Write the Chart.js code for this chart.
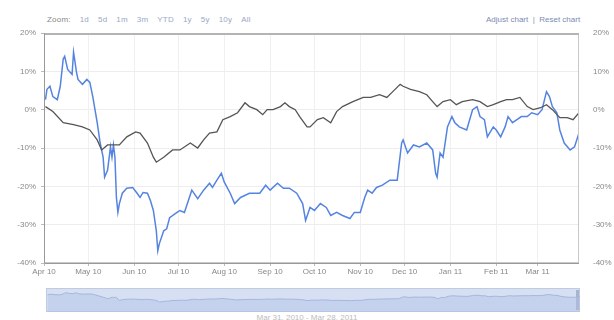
<!DOCTYPE html>
<html>
<head>
<meta charset="utf-8">
<script src="https://cdn.jsdelivr.net/npm/chart.js@4/dist/chart.umd.min.js"></script>
<style>
  html, body { margin: 0; padding: 0; background: #fff; }
  body { width: 614px; height: 320px; position: relative; overflow: hidden; font-family: Arial, "Liberation Sans", sans-serif; }
  #main { position: absolute; left: 0; top: 0; }
  #nav { position: absolute; left: 46px; top: 288px; }
  .zoom { position: absolute; left: 47px; top: 15px; font-size: 8px; color: #9aa6c6; letter-spacing: 0.2px; }
  .zoom span { margin-right: 9px; }
  .zoom b { font-weight: normal; color: #888; margin-right: 9px; }
  .tools { position: absolute; left: 486px; top: 15px; font-size: 8px; color: #7d8bb4; }
  .range { position: absolute; left: 0; width: 614px; top: 313px; text-align: center; font-size: 8px; color: #bbb; }
</style>
</head>
<body>
<div class="zoom"><b>Zoom:</b><span>1d</span><span>5d</span><span>1m</span><span>3m</span><span>YTD</span><span>1y</span><span>5y</span><span>10y</span><span>All</span></div>
<div class="tools">Adjust chart &nbsp;|&nbsp; Reset chart</div>
<canvas id="main" width="614" height="280"></canvas>
<canvas id="nav" width="534" height="24"></canvas>
<div class="range">Mar 31, 2010 - Mar 28, 2011</div>
<script>
// days counted from Apr 1, 2010
const monthDays = [0, 30, 61, 91, 122, 153, 183, 214, 244, 275, 306, 334];
const monthLabels = ['Apr 10', 'May 10', 'Jun 10', 'Jul 10', 'Aug 10', 'Sep 10', 'Oct 10', 'Nov 10', 'Dec 10', 'Jan 11', 'Feb 11', 'Mar 11'];
const yTicks = [20, 10, 0, -10, -20, -30, -40];

// index (gray) – percent change
const indexDays = [1, 6, 13, 20, 26, 31, 36, 39, 43, 47, 51, 56, 62, 65, 70, 74, 76, 81, 87, 92, 99, 104, 108, 112, 117, 121, 126, 131, 136, 139, 144, 148, 151, 155, 160, 163, 166, 170, 173, 178, 180, 185, 189, 194, 198, 202, 209, 216, 221, 227, 232, 236, 241, 243, 248, 254, 259, 263, 266, 270, 275, 279, 283, 290, 295, 300, 304, 309, 313, 317, 322, 327, 331, 336, 340, 344, 349, 354, 358, 362];
const indexPct = [0.8, -0.5, -3.4, -3.9, -4.5, -5.3, -7.9, -10.5, -9.2, -9.2, -9.2, -7.1, -5.8, -6.1, -8.7, -12.4, -13.7, -12.4, -10.5, -10.5, -8.7, -10, -7.9, -6.1, -5.8, -2.6, -1.8, -0.8, 1.8, 0.8, 0, -1.3, 0, 0, 0.8, 1.8, 0.8, 0, -1.8, -4.5, -4.5, -2.6, -2.1, -3.4, -0.5, 0.8, 2.1, 3.2, 3.2, 3.9, 3.2, 4.7, 6.6, 6.1, 5.3, 4.7, 3.9, 2.1, 0.8, 2.1, 2.6, 1.3, 2.1, 2.6, 2.1, 0.8, 1.3, 2.1, 2.6, 2.6, 3.2, 0.8, 0, 0.5, 1.3, 0, -2.1, -2.1, -2.6, -0.8];

// stock (blue) – percent change
const stockDays = [1, 2, 4, 6, 9, 11, 13, 14, 16, 19, 20, 21, 22, 23, 26, 29, 31, 33, 36, 38, 40, 41, 43, 45, 46, 47, 48, 49, 50, 51, 53, 56, 60, 63, 65, 67, 70, 72, 74, 76, 77, 78, 81, 83, 85, 90, 92, 95, 100, 104, 108, 112, 114, 117, 120, 122, 126, 129, 133, 139, 146, 150, 153, 158, 162, 166, 171, 175, 177, 180, 183, 187, 191, 194, 198, 202, 207, 210, 214, 217, 219, 222, 225, 229, 234, 239, 242, 243, 246, 250, 254, 259, 263, 265, 266, 268, 270, 273, 276, 278, 281, 286, 290, 293, 295, 298, 300, 304, 306, 309, 312, 314, 317, 320, 323, 327, 330, 334, 337, 340, 342, 344, 347, 349, 352, 356, 359, 362];
const stockPct = [2.6, 5.3, 6.1, 3.4, 2.6, 6.1, 13.2, 13.9, 10.5, 9.2, 15, 12.4, 9.7, 7.9, 6.6, 7.9, 7.1, 3.4, -3.4, -8.7, -12.4, -17.6, -15.8, -9.7, -12.4, -9.2, -12.4, -22.9, -26.8, -24.5, -21.8, -20.5, -20.3, -21.8, -22.9, -21.6, -21.8, -23.7, -26.3, -31.6, -36.8, -35, -31.6, -31.1, -28.2, -26.8, -26.3, -26.8, -21, -23.2, -21, -19.2, -20.3, -18.4, -16.6, -18.9, -21.8, -24.5, -22.9, -21.8, -21.8, -19.7, -21, -19.2, -20.5, -20.5, -21.8, -24.5, -28.9, -25.5, -26.3, -24.5, -25.5, -27.6, -26.8, -27.6, -28.4, -26.8, -26.8, -22.9, -21, -21.8, -20.3, -19.7, -18.4, -18.4, -8.7, -7.9, -11.3, -9.2, -9.7, -8.7, -10.5, -16.6, -17.6, -11.3, -12.4, -4.5, -1.8, -3.4, -4.5, -5.3, 0, 0.8, -1.8, -2.6, -7.1, -4.5, -5.3, -7.1, -4.5, -1.8, -3.4, -2.6, -1.8, -1.8, -0.8, -1.3, 0, 4.7, 3.4, 0.8, -0.8, -5.3, -8.7, -10.5, -9.7, -6.1];

const toPoints = (xs, ys) => xs.map((x, i) => ({ x: x, y: ys[i] }));

const frame = {
  id: 'frame',
  afterDraw(chart) {
    const { ctx, chartArea: a } = chart;
    ctx.save();
    ctx.strokeStyle = '#c8c8c8';
    ctx.lineWidth = 1;
    ctx.strokeRect(a.left + 0.5, a.top + 0.5, a.right - a.left - 1, a.bottom - a.top - 1);
    ctx.strokeStyle = '#b4b4b4';
    ctx.lineWidth = 2;
    ctx.beginPath();
    ctx.moveTo(a.left, a.top + 1);
    ctx.lineTo(a.right, a.top + 1);
    ctx.stroke();
    ctx.strokeStyle = '#999';
    ctx.lineWidth = 1;
    ctx.beginPath();
    ctx.moveTo(a.left + 0.5, a.top);
    ctx.lineTo(a.left + 0.5, a.bottom + 0.5);
    ctx.lineTo(a.right, a.bottom + 0.5);
    ctx.stroke();
    ctx.restore();
  }
};

const tickFont = { family: 'Arial, "Liberation Sans", sans-serif', size: 8 };

new Chart(document.getElementById('main'), {
  type: 'line',
  data: {
    datasets: [
      {
        label: 'Index',
        data: toPoints(indexDays, indexPct),
        borderColor: '#555555',
        borderWidth: 1.3,
        pointRadius: 0,
        tension: 0,
        yAxisID: 'y'
      },
      {
        label: 'Stock',
        data: toPoints(stockDays, stockPct),
        borderColor: '#5584e0',
        borderWidth: 1.5,
        pointRadius: 0,
        tension: 0,
        yAxisID: 'y'
      }
    ]
  },
  options: {
    responsive: false,
    animation: false,
    layout: { padding: { top: 33, left: 0, right: 0, bottom: 0 } },
    plugins: { legend: { display: false }, tooltip: { enabled: false } },
    scales: {
      x: {
        type: 'linear',
        min: 0,
        max: 362,
        afterBuildTicks: (axis) => { axis.ticks = monthDays.map((d) => ({ value: d })); },
        afterFit: (axis) => { axis.height = 17; },
        ticks: {
          autoSkip: false,
          maxRotation: 0,
          color: '#888',
          font: tickFont,
          padding: 1,
          callback: (v) => monthLabels[monthDays.indexOf(v)]
        },
        grid: { color: '#f0f0f0', drawTicks: true, tickLength: 3, tickColor: '#bbb' },
        border: { display: false }
      },
      y: {
        position: 'left',
        min: -40,
        max: 20,
        afterBuildTicks: (axis) => { axis.ticks = yTicks.map((v) => ({ value: v })); },
        afterFit: (axis) => { axis.width = 44; },
        ticks: { color: '#888', font: tickFont, padding: 5, callback: (v) => v + '%' },
        grid: { color: '#ededed', tickLength: 3, tickColor: '#bbb' },
        border: { display: false }
      },
      y2: {
        position: 'right',
        min: -40,
        max: 20,
        afterBuildTicks: (axis) => { axis.ticks = yTicks.map((v) => ({ value: v })); },
        afterFit: (axis) => { axis.width = 35; },
        ticks: { color: '#888', font: tickFont, padding: 6, callback: (v) => v + '%' },
        grid: { display: false },
        border: { display: false }
      }
    }
  },
  plugins: [frame]
});

const navBackground = {
  id: 'navBackground',
  beforeDraw(chart) {
    const { ctx, width, height } = chart;
    ctx.save();
    ctx.fillStyle = '#d6e0f2';
    ctx.fillRect(0, 0, width, height);
    ctx.strokeStyle = '#bfcbe0';
    ctx.strokeRect(0.5, 0.5, width - 1, height - 1);
    ctx.fillStyle = '#a9b4cc';
    ctx.fillRect(width - 4, 2, 3, height - 4);
    ctx.restore();
  }
};

new Chart(document.getElementById('nav'), {
  type: 'line',
  data: {
    datasets: [{
      data: toPoints(stockDays, stockPct),
      borderColor: '#a6b7dc',
      borderWidth: 1,
      backgroundColor: 'rgba(175, 193, 230, 0.45)',
      fill: 'start',
      pointRadius: 0
    }]
  },
  options: {
    responsive: false,
    animation: false,
    layout: { padding: 0 },
    plugins: { legend: { display: false }, tooltip: { enabled: false } },
    scales: {
      x: { type: 'linear', min: 0, max: 362, display: false },
      y: { min: -90, max: 40, display: false }
    }
  },
  plugins: [navBackground]
});
</script>
</body>
</html>
